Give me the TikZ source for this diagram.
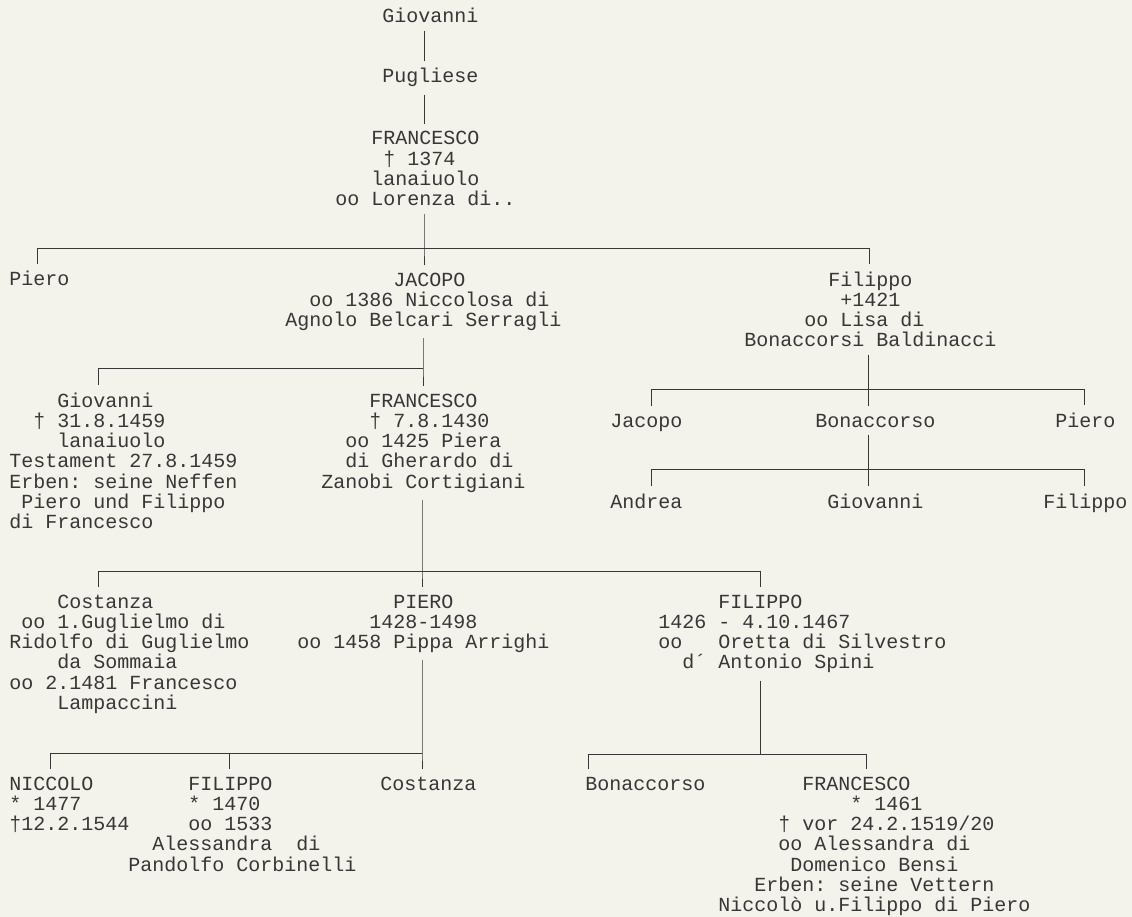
\documentclass[tikz,border=0pt]{standalone}
\usepackage{fontspec}
\setmainfont{Liberation Mono}
\usepackage{tikz}

\definecolor{paper}{RGB}{243,242,235}
\definecolor{ink}{RGB}{55,55,55}

\begin{document}
\frenchspacing
\begin{tikzpicture}[x=1pt, y=-1pt,
    pers/.style={align=left, anchor=base west, inner xsep=0pt, inner ysep=7pt,
      yshift=-#1*20.3pt, text=ink, font={\fontsize{20}{20.3}\selectfont}},
    pers/.default=0,
    every path/.style={draw=ink, line width=0.9pt}]
    \path[use as bounding box, fill=paper, draw=none] (0,0) rectangle (1132,917);

    \node[pers] (g0) at (382,23) {Giovanni};
    \node[pers] (pu) at (382,83) {Pugliese};
    \node[pers=3] (f0) at (335,145) {~~~FRANCESCO\\~~~~† 1374\\~~~lanaiuolo\\oo Lorenza di..};

    \node[pers] (p1) at (9,286) {Piero};
    \node[pers=2] (ja) at (285,286) {~~~~~~~~~JACOPO\\~~oo 1386 Niccolosa di\\Agnolo Belcari Serragli};
    \node[pers=3] (fi1) at (744,286) {~~~~~~~Filippo\\~~~~~~~~+1421\\~~~~~oo Lisa di\\Bonaccorsi Baldinacci};

    \node[pers=6] (g1) at (9,407) {~~~~Giovanni\\~~† 31.8.1459\\~~~~lanaiuolo\\Testament 27.8.1459\\Erben: seine Neffen\\~Piero und Filippo\\di Francesco};
    \node[pers=4] (f1) at (321,407) {~~~~FRANCESCO\\~~~~† 7.8.1430\\~~oo 1425 Piera\\~~di Gherardo di\\Zanobi Cortigiani};

    \node[pers] (ja2) at (610,427) {Jacopo};
    \node[pers] (bo) at (815,427) {Bonaccorso};
    \node[pers] (p2) at (1055,427) {Piero};

    \node[pers] (an) at (610,508) {Andrea};
    \node[pers] (g2) at (827,508) {Giovanni};
    \node[pers] (fi2) at (1043,508) {Filippo};

    \node[pers=5] (co1) at (9,608) {~~~~Costanza\\~oo 1.Guglielmo di\\Ridolfo di Guglielmo\\~~~~da Sommaia\\oo 2.1481 Francesco\\~~~~Lampaccini};
    \node[pers=2] (p3) at (297,608) {~~~~~~~~PIERO\\~~~~~~1428-1498\\oo 1458 Pippa Arrighi};
    \node[pers=3] (fi3) at (658,608) {~~~~~FILIPPO\\1426 - 4.10.1467\\oo~~~Oretta di Silvestro\\~~d´ Antonio Spini};

    \node[pers=2] (ni) at (9,790) {NICCOLO\\* 1477\\†12.2.1544};
    \node[pers=4] (fi4) at (128,790) {~~~~~FILIPPO\\~~~~~* 1470\\~~~~~oo 1533\\~~Alessandra~~di\\Pandolfo Corbinelli};
    \node[pers] (co2) at (380,790) {Costanza};
    \node[pers] (bo2) at (585,790) {Bonaccorso};
    \node[pers=6] (f2) at (718,790) {~~~~~~~FRANCESCO\\~~~~~~~~~~~* 1461\\~~~~~† vor 24.2.1519/20\\~~~~~oo Alessandra di\\~~~~~~Domenico Bensi\\~~~Erben: seine Vettern\\Niccolò u.Filippo di Piero};

    \coordinate (k1a) at (37,248);
    \coordinate (k1b) at (424,248);
    \coordinate (k1c) at (869,248);
    \coordinate (k2a) at (98,368);
    \coordinate (k2b) at (423,368);
    \coordinate (k3a) at (651,389);
    \coordinate (k3b) at (868,389);
    \coordinate (k3c) at (1084,389);
    \coordinate (k4a) at (651,469);
    \coordinate (k4b) at (868,469);
    \coordinate (k4c) at (1084,469);
    \coordinate (k5a) at (98,571);
    \coordinate (k5b) at (422,571);
    \coordinate (k5c) at (760,571);
    \coordinate (k6a) at (50,753);
    \coordinate (k6b) at (229,753);
    \coordinate (k6c) at (422,753);
    \coordinate (k7a) at (588,754);
    \coordinate (k7b) at (760,754);
    \coordinate (k7c) at (866,754);

    \draw (g0.south -| k1b) -- (pu.north -| k1b);
    \draw (pu.south -| k1b) -- (f0.north -| k1b);
    \draw (f0.south -| k1b) -- (k1b) -- (k1b |- ja.north);
    \draw (k1a) -- (k1c);
    \draw (k1a) -- (k1a |- p1.north);
    \draw (k1c) -- (k1c |- fi1.north);

    \draw (ja.south -| k2b) -- (k2b) -- (k2b |- f1.north);
    \draw (k2a) -- (k2b);
    \draw (k2a) -- (k2a |- g1.north);

    \draw (fi1.south -| k3b) -- (k3b) -- (k3b |- bo.north);
    \draw (k3a) -- (k3c);
    \draw (k3a) -- (k3a |- ja2.north);
    \draw (k3c) -- (k3c |- p2.north);

    \draw (bo.south -| k4b) -- (k4b) -- (k4b |- g2.north);
    \draw (k4a) -- (k4c);
    \draw (k4a) -- (k4a |- an.north);
    \draw (k4c) -- (k4c |- fi2.north);

    \draw (f1.south -| k5b) -- (k5b) -- (k5b |- p3.north);
    \draw (k5a) -- (k5c);
    \draw (k5a) -- (k5a |- co1.north);
    \draw (k5c) -- (k5c |- fi3.north);

    \draw (p3.south -| k6c) -- (k6c) -- (k6c |- co2.north);
    \draw (k6a) -- (k6c);
    \draw (k6a) -- (k6a |- ni.north);
    \draw (k6b) -- (k6b |- fi4.north);

    \draw (fi3.south -| k7b) -- (k7b);
    \draw (k7a) -- (k7c);
    \draw (k7a) -- (k7a |- bo2.north);
    \draw (k7c) -- (k7c |- f2.north);
\end{tikzpicture}
\end{document}
